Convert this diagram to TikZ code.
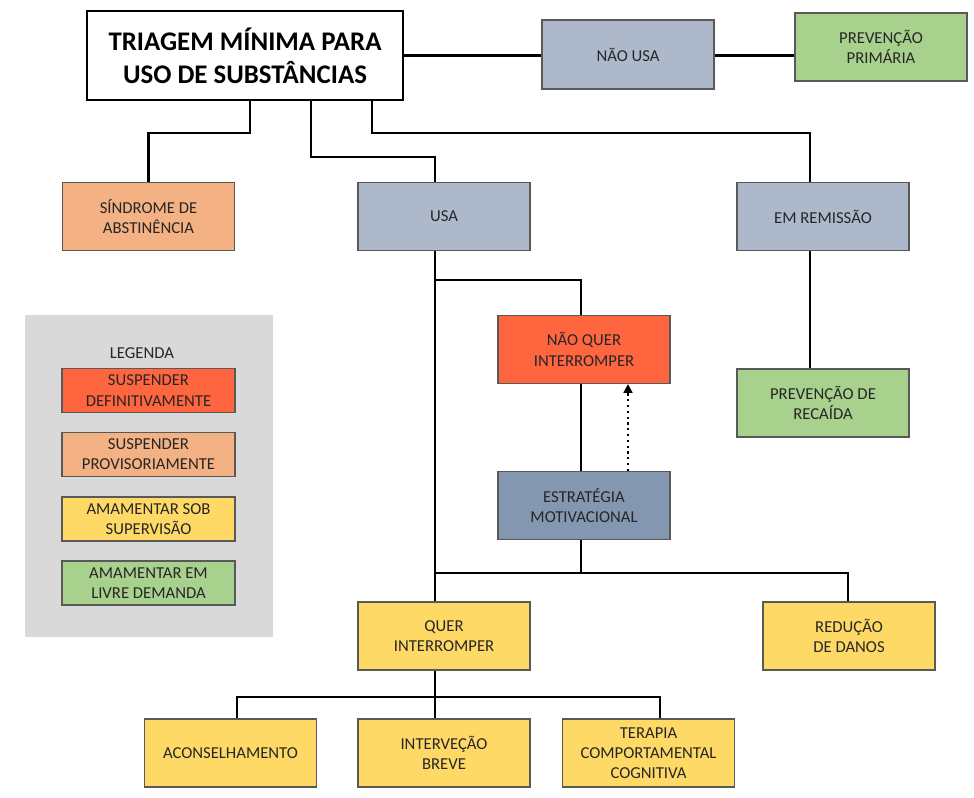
\documentclass[tikz,border=0pt]{standalone}
\usepackage{fontspec}
\setmainfont{Carlito}
\usepackage{tikz}
\usetikzlibrary{arrows.meta}

\definecolor{cinza}{HTML}{ADB9CA}
\definecolor{verde}{HTML}{A9D18E}
\definecolor{salmao}{HTML}{F4B183}
\definecolor{laranja}{HTML}{FF6640}
\definecolor{amarelo}{HTML}{FFD966}
\definecolor{azulaco}{HTML}{8497B0}
\definecolor{fundoleg}{HTML}{DAD9DA}
\definecolor{texto}{HTML}{262626}

\begin{document}
\begin{tikzpicture}[x=0.02cm, y=-0.02cm,
	caixa/.style={draw=black!65, line width=0.6pt, minimum width=3.44cm, minimum height=1.36cm, align=center, font=\fontsize{9.5}{11.5}\selectfont, text=texto},
	legbox/.style={draw=black!65, line width=0.6pt, minimum width=3.46cm, minimum height=0.88cm, align=center, font=\fontsize{9.5}{11.5}\selectfont, text=texto},
	ligacao/.style={line width=1.3pt, black}]
	\useasboundingbox (0,0) rectangle (974,798);
	% topo
	\node[draw=black, line width=0.8pt, minimum width=6.32cm, minimum height=1.78cm, align=center, font=\fontsize{15.3}{19}\selectfont\bfseries] (triagem) at (245,55.5) {TRIAGEM MÍNIMA PARA\\USO DE SUBSTÂNCIAS};
	\node[caixa, fill=cinza, minimum height=1.38cm] (naousa) at (628,54.5) {NÃO USA};
	\node[caixa, fill=verde] (prevprim) at (881,47) {PREVENÇÃO\\PRIMÁRIA};
	% segundo nivel
	\node[caixa, fill=salmao] (sindrome) at (148.5,216.5) {SÍNDROME DE\\ABSTINÊNCIA};
	\node[caixa, fill=cinza] (usa) at (444,216.5) {USA};
	\node[caixa, fill=cinza] (remissao) at (823,216.5) {EM REMISSÃO};
	\node[caixa, fill=verde] (prevrec) at (823,403) {PREVENÇÃO DE\\RECAÍDA};
	% uso
	\node[caixa, fill=laranja] (naoquer) at (584,349.5) {NÃO QUER\\INTERROMPER};
	\node[caixa, fill=azulaco] (estrategia) at (584,505.5) {ESTRATÉGIA\\MOTIVACIONAL};
	\node[caixa, fill=amarelo] (quer) at (444,636) {QUER\\INTERROMPER};
	\node[caixa, fill=amarelo] (reducao) at (849,636) {REDUÇÃO\\DE DANOS};
	\node[caixa, fill=amarelo] (aconselha) at (230.5,753) {ACONSELHAMENTO};
	\node[caixa, fill=amarelo] (intervencao) at (444,753) {INTERVEÇÃO\\BREVE};
	\node[caixa, fill=amarelo] (terapia) at (648.5,753) {TERAPIA\\COMPORTAMENTAL\\COGNITIVA};
	% legenda
	\fill[fundoleg] (25,315) rectangle (273,637);
	\node[font=\fontsize{9.5}{11.5}\selectfont, text=texto] (legenda) at (142,353) {LEGENDA};
	\node[legbox, fill=laranja] (leg1) at (148.5,390.5) {SUSPENDER\\DEFINITIVAMENTE};
	\node[legbox, fill=salmao] (leg2) at (148.5,454.5) {SUSPENDER\\PROVISORIAMENTE};
	\node[legbox, fill=amarelo] (leg3) at (148.5,519) {AMAMENTAR SOB\\SUPERVISÃO};
	\node[legbox, fill=verde] (leg4) at (148.5,583) {AMAMENTAR EM\\LIVRE DEMANDA};
	% ligacoes
	\coordinate (j1) at (435,280);
	\coordinate (j2) at (435,573);
	\coordinate (j3) at (435,697);
	\coordinate (j4) at (660,697);
	\draw[ligacao] (triagem.east) -- (triagem.east -| naousa.west);
	\draw[ligacao] (naousa.east |- triagem.east) -- (prevprim.west |- triagem.east);
	\draw[ligacao] ([shift={(5,0)}]triagem.south) -- ++(0,32) -| (sindrome.north);
	\draw[ligacao] ([shift={(66,0)}]triagem.south) -- ++(0,56) -| ([shift={(-9,0)}]usa.north);
	\draw[ligacao] ([shift={(127,0)}]triagem.south) -- ++(0,32) -| ([shift={(-13,0)}]remissao.north);
	\draw[ligacao] ([shift={(-13,0)}]remissao.south) -- ([shift={(-13,0)}]prevrec.north);
	\draw[ligacao] ([shift={(-9,0)}]usa.south) -- ([shift={(-9,0)}]quer.north);
	\draw[ligacao] (j1) -| ([shift={(-3,0)}]naoquer.north);
	\draw[ligacao] ([shift={(-3,0)}]naoquer.south) -- ([shift={(-3,0)}]estrategia.north);
	\draw[ligacao] ([shift={(-3,0)}]estrategia.south) -- ([shift={(-3,0)}]estrategia.south |- j2);
	\draw[ligacao] (j2) -| ([shift={(-1,0)}]reducao.north);
	\draw[line width=1.3pt, dotted, -{Triangle[length=5pt, width=5pt]}] ([shift={(44,0)}]estrategia.north) -- ([shift={(44,0)}]naoquer.south);
	\draw[ligacao] ([shift={(-9,0)}]quer.south) -- ([shift={(-9,0)}]intervencao.north);
	\draw[ligacao] ([shift={(6.5,0)}]aconselha.north) |- (j4) -- (j4 |- terapia.north);
\end{tikzpicture}
\end{document}
